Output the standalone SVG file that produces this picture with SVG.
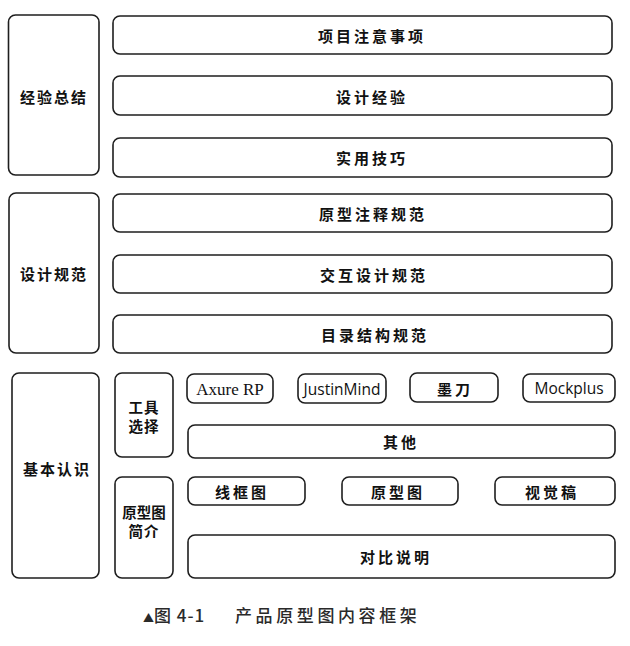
<svg xmlns="http://www.w3.org/2000/svg" width="630" height="646" viewBox="0 0 630 646">
<style>
.b{fill:#fff;stroke:#1e1e1e;stroke-width:1.6}
.t{font-family:"Noto Sans CJK SC","Noto Sans",sans-serif;font-weight:700;font-size:15px;fill:#111;text-anchor:middle;dominant-baseline:central}
.v{font-size:14.5px}
.w{letter-spacing:3px}
.s{font-family:"Liberation Serif",serif;font-weight:400;font-size:17px;fill:#111;text-anchor:middle;dominant-baseline:central}
.o{font-family:"Open Sans","Liberation Sans",sans-serif;font-weight:400;font-size:15.5px;fill:#111;text-anchor:middle;dominant-baseline:central}
.cap{font-family:"Noto Sans CJK SC",sans-serif;font-weight:500;font-size:17px;fill:#2a2a2a}
</style>
<rect width="630" height="646" fill="#fff"/>
<g id="connectors"></g>
<g id="n-jingyan"><rect class="b" x="8.5" y="15" width="90.5" height="160" rx="7"/><text class="t" x="54" y="96" letter-spacing="2">经验总结</text></g>
<g id="n-xiangmu"><rect class="b" x="113" y="16" width="499" height="38" rx="7"/><text class="t w" x="372" y="35">项目注意事项</text></g>
<g id="n-sheji-jy"><rect class="b" x="113" y="76" width="499" height="39" rx="7"/><text class="t w" x="372" y="96">设计经验</text></g>
<g id="n-shiyong"><rect class="b" x="113" y="138" width="499" height="39" rx="7"/><text class="t w" x="372" y="157">实用技巧</text></g>
<g id="n-guifan"><rect class="b" x="9" y="193" width="90" height="160" rx="7"/><text class="t" x="54" y="273" letter-spacing="2">设计规范</text></g>
<g id="n-zhushi"><rect class="b" x="113" y="194" width="499" height="38" rx="7"/><text class="t w" x="373" y="213">原型注释规范</text></g>
<g id="n-jiaohu"><rect class="b" x="113" y="255" width="499" height="38" rx="7"/><text class="t w" x="374" y="274">交互设计规范</text></g>
<g id="n-mulu"><rect class="b" x="113" y="315" width="499" height="38" rx="7"/><text class="t w" x="375" y="334">目录结构规范</text></g>
<g id="n-jiben"><rect class="b" x="12" y="373" width="87" height="205" rx="7"/><text class="t" x="57" y="468" letter-spacing="2">基本认识</text></g>
<g id="n-gongju"><rect class="b" x="115" y="373" width="58" height="84" rx="7"/><text class="t v" x="144" y="406" letter-spacing="1">工具</text><text class="t v" x="144" y="425" letter-spacing="1">选择</text></g>
<g id="n-yuanxing-jj"><rect class="b" x="115" y="477" width="58" height="101" rx="7"/><text class="t v" x="144" y="511">原型图</text><text class="t v" x="144" y="530" letter-spacing="1">简介</text></g>
<g id="n-axure"><rect class="b" x="187" y="374" width="86" height="29" rx="7"/><text class="s" x="230" y="389">Axure RP</text></g>
<g id="n-justinmind"><rect class="b" x="298" y="374" width="88" height="29" rx="7"/><text class="o" x="342" y="389">JustinMind</text></g>
<g id="n-modao"><rect class="b" x="410" y="373" width="88" height="29" rx="7"/><text class="t w" x="455" y="388">墨刀</text></g>
<g id="n-mockplus"><rect class="b" x="523" y="374" width="92" height="28" rx="7"/><text class="o" x="569" y="388">Mockplus</text></g>
<g id="n-qita"><rect class="b" x="188" y="425" width="427" height="33" rx="7"/><text class="t w" x="401" y="441">其他</text></g>
<g id="n-xiankuang"><rect class="b" x="188" y="477" width="117" height="28" rx="7"/><text class="t w" x="242" y="491">线框图</text></g>
<g id="n-yuanxingtu"><rect class="b" x="342" y="477" width="116" height="28" rx="7"/><text class="t w" x="398" y="491">原型图</text></g>
<g id="n-shijue"><rect class="b" x="495" y="477" width="120" height="28" rx="7"/><text class="t w" x="552" y="491">视觉稿</text></g>
<g id="n-duibi"><rect class="b" x="188" y="535" width="427" height="43" rx="7"/><text class="t w" x="396" y="556">对比说明</text></g>
<g id="caption"><text class="cap" x="143" y="622"><tspan font-size="11">▲</tspan><tspan letter-spacing="1">图 4-1</tspan></text><text class="cap" x="235" y="622" letter-spacing="3.6">产品原型图内容框架</text></g>
</svg>
